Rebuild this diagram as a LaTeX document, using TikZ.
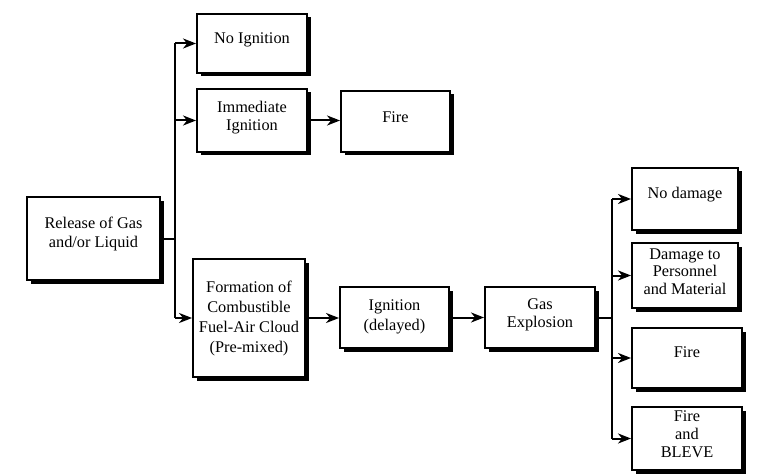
\documentclass[tikz,border=0pt]{standalone}
\usepackage{fontspec}
\setmainfont{Liberation Serif}
\usetikzlibrary{arrows.meta,shadows,calc}
\newcommand\bt[3][19pt]{\raisebox{\dimexpr#2-2pt\relax}[0pt][0pt]{\fontsize{16.3}{#1}\selectfont\begin{tabular}{@{}c@{}}#3\end{tabular}}}
\begin{document}
\begin{tikzpicture}[x=1pt,y=-1pt,
  box/.style={draw, line width=1.9pt, fill=white, inner sep=0pt,
    drop shadow={shadow xshift=3.5pt, shadow yshift=-3.5pt, fill=black, opacity=1}},
  conn/.style={line width=2pt},
  arr/.style={line width=2pt, -{Stealth[length=13pt,width=10pt,inset=4pt]}}]
\useasboundingbox (0,0) rectangle (766,476);
\fill[white] (0,0) rectangle (766,476);

\node[box, minimum width=133pt, minimum height=83pt] (rel) at (93.5,238.5) {\bt{2pt}{Release of Gas\\and/or Liquid}};
\node[box, minimum width=110pt, minimum height=59pt] (noig) at (252,43.5) {\bt{1pt}{No Ignition}};
\node[box, minimum width=110pt, minimum height=63pt] (imm) at (252,120.5) {\bt[18pt]{0pt}{Immediate\\Ignition}};
\node[box, minimum width=109pt, minimum height=61pt] (fire1) at (395.5,121.5) {\bt{0pt}{Fire}};
\node[box, minimum width=112pt, minimum height=118pt] (form) at (249,318) {\bt[20pt]{-3pt}{Formation of\\Combustible\\Fuel-Air Cloud\\(Pre-mixed)}};
\node[box, minimum width=109pt, minimum height=61pt] (ign) at (394.5,317.5) {\bt[20pt]{-1.5pt}{Ignition\\(delayed)}};
\node[box, minimum width=110pt, minimum height=61pt] (gas) at (540,317.5) {\bt[18pt]{0pt}{Gas\\Explosion}};
\node[box, minimum width=106pt, minimum height=62pt] (nod) at (685,199) {\bt{2pt}{No damage}};
\node[box, minimum width=106pt, minimum height=65pt] (dam) at (685,275.5) {\bt[17.5pt]{0pt}{Damage to\\Personnel\\and Material}};
\node[box, minimum width=110pt, minimum height=60pt] (fire2) at (687,358) {\bt{2pt}{Fire}};
\node[box, minimum width=110pt, minimum height=63pt] (bleve) at (687,438.5) {\bt[18pt]{0pt}{Fire\\and\\BLEVE}};

\coordinate (j1) at (175,238);
\draw[conn] (rel.east) -- (j1 |- rel.east);
\draw[conn] (j1 |- noig.west) -- (j1 |- form.west);
\draw[arr] (j1 |- noig.west) -- (noig.west);
\draw[arr] (j1 |- imm.west) -- (imm.west);
\draw[arr] (j1 |- form.west) -- (form.west);
\draw[arr] (imm.east) -- (imm.east -| fire1.west);
\draw[arr] (form.east) -- (form.east -| ign.west);
\draw[arr] (ign.east) -- (ign.east -| gas.west);

\coordinate (j2) at (612,317);
\draw[conn] (gas.east) -- (j2 |- gas.east);
\draw[conn] (j2 |- nod.west) -- (j2 |- bleve.west);
\draw[arr] (j2 |- nod.west) -- (nod.west);
\draw[arr] (j2 |- dam.west) -- (dam.west);
\draw[arr] (j2 |- fire2.west) -- (fire2.west);
\draw[arr] (j2 |- bleve.west) -- (bleve.west);
\end{tikzpicture}
\end{document}
